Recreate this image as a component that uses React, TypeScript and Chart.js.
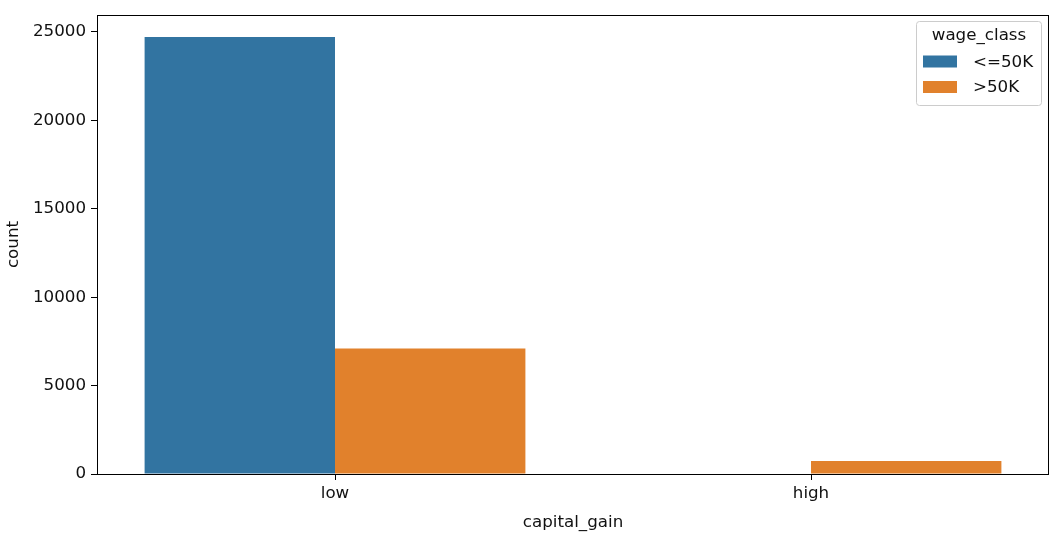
import React, { useEffect, useRef } from "react";
import { Chart, registerables } from "chart.js";
Chart.register(...registerables);

const categories = ["low", "high"];
const seriesLabels = ["<=50K", ">50K"];
const lowWageCounts = [24720, 0];
const highWageCounts = [7100, 741];
const yTickValues = [0, 5000, 10000, 15000, 20000, 25000];
const seriesColors = ["#3274a1", "#e1812c"];
const legendTitle = "wage_class";
const xTitle = "capital_gain";
const yTitle = "count";

const FONT = "DejaVu Sans";
const FS = 16.7;
const TEXT = "#111111";

const framePlugin = {
  id: "frame",
  afterDatasetsDraw(chart: any) {
    const { ctx, chartArea } = chart;
    ctx.save();
    ctx.strokeStyle = "#000";
    ctx.lineWidth = 1;
    ctx.strokeRect(
      Math.round(chartArea.left) + 0.5,
      Math.round(chartArea.top) + 0.5,
      Math.round(chartArea.right - chartArea.left) - 1,
      Math.round(chartArea.bottom - chartArea.top)
    );
    ctx.restore();
  },
};

const legendPlugin = {
  id: "mplLegend",
  afterDraw(chart: any) {
    const { ctx } = chart;
    const x0 = 916.5, y0 = 21.5, w = 125, h = 84, r = 3;
    ctx.save();
    ctx.beginPath();
    ctx.moveTo(x0 + r, y0);
    ctx.lineTo(x0 + w - r, y0);
    ctx.arcTo(x0 + w, y0, x0 + w, y0 + r, r);
    ctx.lineTo(x0 + w, y0 + h - r);
    ctx.arcTo(x0 + w, y0 + h, x0 + w - r, y0 + h, r);
    ctx.lineTo(x0 + r, y0 + h);
    ctx.arcTo(x0, y0 + h, x0, y0 + h - r, r);
    ctx.lineTo(x0, y0 + r);
    ctx.arcTo(x0, y0, x0 + r, y0, r);
    ctx.closePath();
    ctx.fillStyle = "rgba(255,255,255,0.8)";
    ctx.fill();
    ctx.strokeStyle = "#cccccc";
    ctx.lineWidth = 1;
    ctx.stroke();
    ctx.font = `${FS}px "${FONT}"`;
    ctx.fillStyle = TEXT;
    ctx.textBaseline = "middle";
    ctx.textAlign = "center";
    ctx.fillText(legendTitle, x0 + w / 2, 36);
    ctx.textAlign = "left";
    chart.data.datasets.forEach((ds: any, i: number) => {
      const cy = 61.5 + i * 25.5;
      ctx.fillStyle = ds.backgroundColor;
      ctx.fillRect(923, cy - 6, 34, 12);
      ctx.fillStyle = TEXT;
      ctx.fillText(ds.label, 973, cy + 1);
    });
    ctx.restore();
  },
};

export default function App() {
  const ref = useRef<HTMLCanvasElement | null>(null);
  useEffect(() => {
    if (!ref.current) return;
    const yMax = Math.max(...lowWageCounts, ...highWageCounts) * 1.05;
    const chart = new Chart(ref.current, {
      type: "bar",
      data: {
        labels: categories,
        datasets: [
          { label: seriesLabels[0], data: lowWageCounts, backgroundColor: seriesColors[0] },
          { label: seriesLabels[1], data: highWageCounts, backgroundColor: seriesColors[1] },
        ],
      },
      options: {
        animation: false,
        responsive: false,
        maintainAspectRatio: false,
        layout: { padding: { left: 0, top: 13, right: 10, bottom: 0 } },
        datasets: { bar: { categoryPercentage: 0.8, barPercentage: 1.0 } },
        plugins: { legend: { display: false }, tooltip: { enabled: false } },
        scales: {
          x: {
            offset: true,
            grid: { display: true, drawOnChartArea: false, drawTicks: true, tickLength: 6, tickColor: "#000", offset: false },
            border: { display: false },
            ticks: { color: TEXT, font: { family: FONT, size: FS }, padding: 4, maxRotation: 0 },
            title: { display: true, text: xTitle, color: TEXT, font: { family: FONT, size: FS }, padding: { top: 4, bottom: 6 } },
            afterFit(scale: any) { scale.height = 65; },
          },
          y: {
            min: 0,
            max: yMax,
            grid: { display: true, drawOnChartArea: false, drawTicks: true, tickLength: 6, tickColor: "#000" },
            border: { display: false },
            afterBuildTicks(scale: any) { scale.ticks = yTickValues.map((v) => ({ value: v })); },
            ticks: { color: TEXT, font: { family: FONT, size: FS }, padding: 5, callback: (v: any) => String(v) },
            title: { display: true, text: yTitle, color: TEXT, font: { family: FONT, size: FS }, padding: { top: 4, bottom: 4 } },
            afterFit(scale: any) { scale.width = 97; },
          },
        },
      },
      plugins: [framePlugin, legendPlugin],
    });
    return () => chart.destroy();
  }, []);
  return (
    <div style={{ position: "fixed", left: 0, top: 0, width: 1059, height: 539, background: "#fff" }}>
      <canvas ref={ref} width={1059} height={539} style={{ width: 1059, height: 539, display: "block" }} />
    </div>
  );
}
